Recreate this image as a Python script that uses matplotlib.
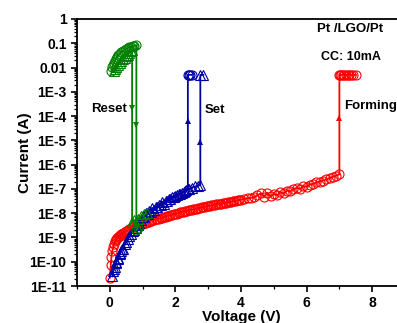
import matplotlib
matplotlib.use("Agg")
import matplotlib.pyplot as plt
from matplotlib.ticker import FixedLocator, LogLocator, NullFormatter, MultipleLocator

plt.rcParams["font.family"] = ["Liberation Sans", "DejaVu Sans"]
plt.rcParams["font.weight"] = "bold"

RED = "#ff0000"
BLUE = "#0000a8"
GREEN = "#008000"

# forming sweep (red circles)
form_v = [0.0, 0.03, 0.05, 0.08, 0.1, 0.13, 0.16, 0.2, 0.25, 0.3, 0.35,
          0.4, 0.5, 0.6, 0.7, 0.8, 0.9, 1.0, 1.1, 1.2, 1.3, 1.4, 1.5, 1.6,
          1.7, 1.8, 1.9, 2.0, 2.1, 2.2, 2.3, 2.4, 2.5, 2.6, 2.7, 2.8, 2.9,
          3.0, 3.1, 3.2, 3.3, 3.4, 3.5, 3.6, 3.7, 3.8, 3.9, 4.0, 4.1, 4.2,
          4.3, 4.4, 4.5, 4.6, 4.7, 4.8, 4.9, 5.0, 5.1, 5.2, 5.3, 5.4, 5.5,
          5.6, 5.7, 5.8, 5.9, 6.0, 6.1, 6.2, 6.3, 6.4, 6.5, 6.6, 6.7, 6.8,
          6.9, 7.0,
          7.0, 7.03, 7.06, 7.1, 7.15, 7.2, 7.25, 7.3, 7.35, 7.4, 7.5]
form_i = [2.2e-11, 7e-11, 1.6e-10, 2.8e-10, 4e-10, 5.5e-10, 7e-10, 8.5e-10,
          1.0e-9, 1.2e-9, 1.35e-9, 1.5e-9, 1.85e-9, 2.2e-9, 2.7e-9, 3.0e-9,
          3.4e-9, 3.7e-9, 4.1e-9, 4.5e-9, 5.0e-9, 5.5e-9, 6.0e-9, 6.6e-9,
          7.2e-9, 7.9e-9, 8.6e-9, 9.3e-9, 1.02e-8, 1.12e-8, 1.2e-8, 1.3e-8,
          1.4e-8, 1.5e-8, 1.6e-8, 1.72e-8, 1.85e-8, 1.97e-8, 2.1e-8, 2.2e-8,
          2.35e-8, 2.5e-8, 2.65e-8, 2.8e-8, 3.0e-8, 3.2e-8, 3.4e-8, 3.6e-8,
          3.9e-8, 4.1e-8, 4.3e-8, 4.5e-8, 5.5e-8, 6.5e-8, 4.8e-8, 7.0e-8,
          5.0e-8, 6.0e-8, 5.4e-8, 7.5e-8, 6.5e-8, 8.5e-8, 8.0e-8, 1.0e-7,
          1.1e-7, 1.0e-7, 1.3e-7, 1.25e-7, 1.5e-7, 1.6e-7, 1.85e-7, 2.0e-7,
          2.2e-7, 2.5e-7, 2.8e-7, 3.1e-7, 3.5e-7, 4.0e-7,
          5e-3, 5e-3, 5e-3, 5e-3, 5e-3, 5e-3, 5e-3, 5e-3, 5e-3, 5e-3, 5e-3]

# second pass of the forming curve at low bias (fills the dense band)
form2_v = [0.18, 0.22, 0.28, 0.33, 0.45, 0.55, 0.65, 0.75, 0.85, 0.95,
           1.05, 1.15, 1.25, 1.35, 1.45, 1.55, 1.65, 1.75, 1.85, 1.95,
           2.05, 2.15, 2.25, 2.35, 2.45, 2.55, 2.65, 2.75, 2.85, 2.95,
           3.05, 3.15, 3.25, 3.35, 3.45, 3.55, 3.65, 3.75, 3.85, 3.95]
form2_i = [8e-10, 9.5e-10, 1.1e-9, 1.3e-9, 1.7e-9, 2.0e-9, 2.5e-9, 2.85e-9,
           3.2e-9, 3.55e-9, 3.9e-9, 4.3e-9, 4.75e-9, 5.2e-9, 5.75e-9,
           6.3e-9, 6.9e-9, 7.5e-9, 8.2e-9, 9.0e-9, 9.7e-9, 1.07e-8,
           1.16e-8, 1.25e-8, 1.35e-8, 1.45e-8, 1.55e-8, 1.66e-8, 1.78e-8,
           1.9e-8, 2.03e-8, 2.15e-8, 2.28e-8, 2.42e-8, 2.58e-8, 2.72e-8,
           2.9e-8, 3.1e-8, 3.3e-8, 3.5e-8]

# set sweep 1 (blue triangles, jumps at 2.76 V)
set1_v = [0.1, 0.15, 0.2, 0.25, 0.3, 0.35, 0.4, 0.5, 0.6, 0.7, 0.8, 0.9,
          1.0, 1.1, 1.2, 1.3, 1.4, 1.5, 1.6, 1.7, 1.8, 1.9, 2.0, 2.1, 2.2,
          2.3, 2.4, 2.5, 2.6, 2.7, 2.76, 2.76, 2.85]
set1_i = [4e-11, 6.3e-11, 1e-10, 1.26e-10, 2e-10, 2.8e-10, 3.5e-10,
          6.3e-10, 1.1e-9, 1.8e-9, 2.5e-9, 4e-9, 8e-9, 1e-8, 1.26e-8,
          1.6e-8, 1.8e-8, 2.2e-8, 2.8e-8, 3.2e-8, 4e-8, 4.5e-8, 5e-8,
          6.3e-8, 7e-8, 8e-8, 1e-7, 1.1e-7, 1.26e-7, 1.35e-7, 1.45e-7,
          5e-3, 5e-3]

# set sweep 2 (blue, jumps at 2.38 V)
set2_v = [0.08, 0.12, 0.18, 0.24, 0.3, 0.38, 0.46, 0.55, 0.65, 0.75, 0.85,
          0.95, 1.05, 1.15, 1.25, 1.35, 1.45, 1.55, 1.65, 1.75, 1.85, 1.95,
          2.05, 2.15, 2.25, 2.33, 2.38, 2.38, 2.42, 2.46, 2.5]
set2_i = [2.5e-11, 5e-11, 9e-11, 1.4e-10, 2.2e-10, 3.5e-10, 5.6e-10,
          9e-10, 1.4e-9, 2e-9, 3.2e-9, 5e-9, 7e-9, 9e-9, 1.1e-8, 1.4e-8,
          1.8e-8, 2.1e-8, 2.5e-8, 3.2e-8, 3.8e-8, 4.5e-8, 5.4e-8, 6.3e-8,
          7.4e-8, 8.9e-8, 1e-7, 5e-3, 5e-3, 5e-3, 5e-3]

# reset sweep 1 (green circles, drops at 0.81 V)
reset1_v = [0.05, 0.08, 0.1, 0.12, 0.15, 0.18, 0.22, 0.26, 0.3, 0.35, 0.4,
            0.45, 0.5, 0.55, 0.6, 0.65, 0.7, 0.75, 0.81, 0.81, 0.85]
reset1_i = [7e-3, 1.1e-2, 1.3e-2, 1.5e-2, 1.8e-2, 2.2e-2, 2.7e-2, 3.2e-2,
            3.7e-2, 4.3e-2, 4.8e-2, 5.3e-2, 5.8e-2, 6.3e-2, 6.8e-2, 7.2e-2,
            7.6e-2, 8e-2, 8.3e-2, 2e-9, 2.5e-9]

# reset sweep 2 (green triangles, drops at 0.68 V)
reset2_v = [0.12, 0.15, 0.2, 0.25, 0.3, 0.35, 0.4, 0.45, 0.5, 0.55, 0.6,
            0.65, 0.68, 0.68, 0.75, 0.85, 0.95, 1.05, 1.12]
reset2_i = [7e-3, 8.5e-3, 1.05e-2, 1.3e-2, 1.55e-2, 1.85e-2, 2.15e-2,
            2.5e-2, 2.9e-2, 3.4e-2, 3.9e-2, 4.6e-2, 5.2e-2, 4.5e-9, 5e-9,
            6e-9, 7.5e-9, 9e-9, 1e-8]

# arrowheads along the switching lines
up_arrow_v = [7.0, 2.38, 2.76]
up_arrow_i = [8.3e-5, 6e-5, 8.7e-6]
up_arrow_c = [RED, BLUE, BLUE]
down_arrow_v = [0.68, 0.81]
down_arrow_i = [2.1e-4, 4.3e-5]

y_ticks = [1, 0.1, 0.01, 1e-3, 1e-4, 1e-5, 1e-6, 1e-7, 1e-8, 1e-9, 1e-10, 1e-11]
y_labels = ["1", "0.1", "0.01", "1E-3", "1E-4", "1E-5", "1E-6", "1E-7",
            "1E-8", "1E-9", "1E-10", "1E-11"]

fig = plt.figure(figsize=(3.97, 3.23), dpi=100)
ax = fig.add_axes([77 / 397, 37 / 323, 328 / 397, 267 / 323])

mk = dict(markerfacecolor="none", markersize=6.5, markeredgewidth=0.8)

ax.plot(form_v, form_i, "-o", color=RED, lw=1.3, **mk)
ax.plot(form2_v, form2_i, "o", color=RED, **mk)
ax.plot(set2_v, set2_i, "-", color=BLUE, lw=1.3)
ax.plot(set2_v[:-4], set2_i[:-4], "^", color=BLUE, **mk)
ax.plot(set2_v[-4:], set2_i[-4:], "o", color=BLUE, **mk)
ax.plot(set1_v, set1_i, "-^", color=BLUE, lw=1.3, **mk)
ax.plot(reset1_v, reset1_i, "-o", color=GREEN, lw=1.3, **mk)
ax.plot(reset2_v, reset2_i, "-^", color=GREEN, lw=1.3, **mk)

for v, i, c in zip(up_arrow_v, up_arrow_i, up_arrow_c):
    ax.plot(v, i, "^", color=c, markersize=5, markeredgewidth=0)
for v, i in zip(down_arrow_v, down_arrow_i):
    ax.plot(v, i, "v", color=GREEN, markersize=5, markeredgewidth=0)

ax.set_yscale("log")
ax.set_ylim(1e-11, 1)
ax.set_xlim(-1, 9)
ax.yaxis.set_major_locator(FixedLocator(y_ticks))
ax.set_yticklabels(y_labels)
ax.yaxis.set_minor_locator(LogLocator(base=10, subs=range(2, 10), numticks=20))
ax.yaxis.set_minor_formatter(NullFormatter())
ax.xaxis.set_major_locator(MultipleLocator(2))
ax.xaxis.set_minor_locator(MultipleLocator(1))

ax.tick_params(which="major", direction="out", length=4, width=1.2, labelsize=10)
ax.tick_params(which="minor", direction="out", length=2, width=0.9)
for s in ax.spines.values():
    s.set_linewidth(1.3)

ax.set_xlabel("Voltage (V)", fontsize=11, fontweight="bold", labelpad=0)
ax.set_ylabel("Current (A)", fontsize=11, fontweight="bold")
ax.yaxis.set_label_coords(-0.138, 0.5)

ax.text(0.52, 2e-4, "Reset", fontsize=9.5, fontweight="bold", ha="right", va="center")
ax.text(2.9, 1.7e-4, "Set", fontsize=9.5, fontweight="bold", ha="left", va="center")
ax.text(7.15, 2.6e-4, "Forming", fontsize=9.5, fontweight="bold", ha="left", va="center")
ax.text(6.33, 0.4, "Pt /LGO/Pt", fontsize=9.5, fontweight="bold", ha="left", va="center")
ax.text(6.45, 0.028, "CC: 10mA", fontsize=9, fontweight="bold", ha="left", va="center")

fig.savefig("out.png", dpi=100)
